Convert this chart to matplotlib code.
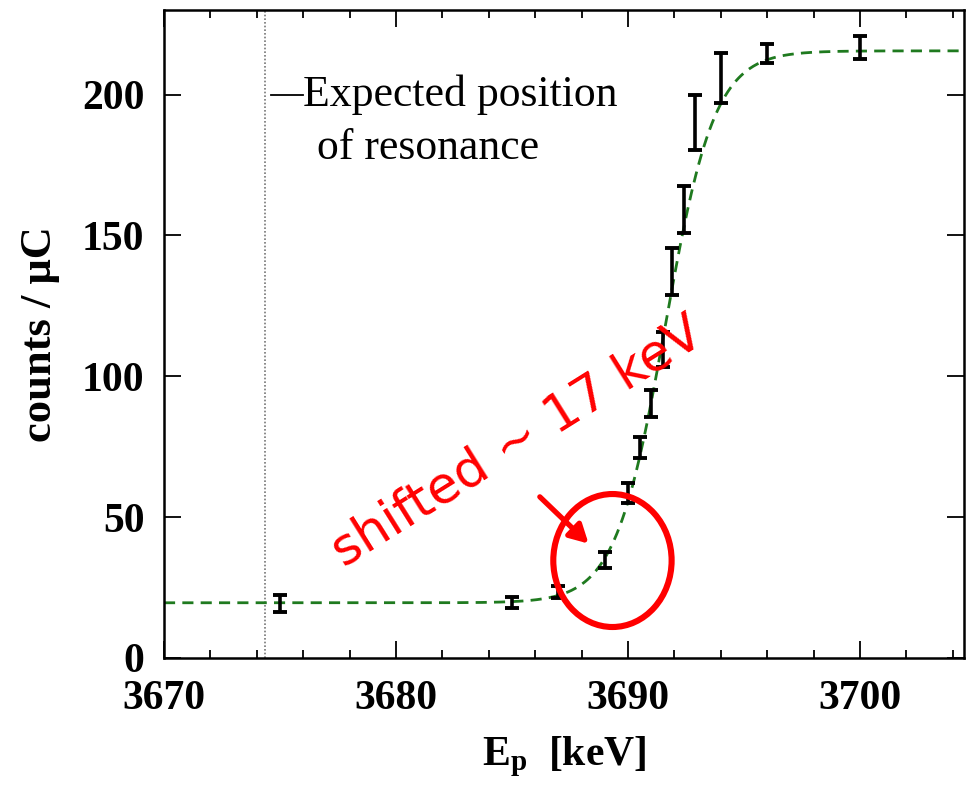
import numpy as np
import matplotlib
matplotlib.use("Agg")
import matplotlib.pyplot as plt
from matplotlib.patches import Ellipse

plt.rcParams["font.family"] = ["Liberation Serif", "DejaVu Serif"]
plt.rcParams["mathtext.fontset"] = "custom"
plt.rcParams["mathtext.rm"] = "Liberation Serif:bold"
plt.rcParams["mathtext.it"] = "Liberation Serif:bold"
plt.rcParams["mathtext.bf"] = "Liberation Serif:bold"

# Measured yield around the resonance
energy = [3675.0, 3685.0, 3687.0, 3689.0, 3690.0, 3690.5, 3691.0, 3691.5,
          3691.9, 3692.4, 3692.9, 3694.0, 3696.0, 3700.0]
counts = [19.3, 19.7, 23.4, 34.8, 58.5, 74.6, 90.2, 109.4,
          137.2, 159.2, 190.1, 205.9, 214.7, 216.8]
errors = [3.0, 2.0, 2.1, 2.8, 3.5, 3.7, 4.8, 6.2,
          8.5, 8.5, 9.9, 9.0, 3.4, 4.1]

# Step-function fit parameters (logistic edge)
fit_low = 19.6
fit_high = 215.5
fit_center = 3691.6
fit_width = 1.07

expected_resonance = 3674.35

x_ticks = [3670, 3680, 3690, 3700]
y_ticks = [0, 50, 100, 150, 200]

fig = plt.figure(figsize=(9.67, 7.93), dpi=100)
ax = fig.add_axes([164 / 967, 135 / 793, 800.4 / 967, 648 / 793])

xlim = (3670, 3704.5)
ylim = (0, 230)

# Fit curve
xf = np.linspace(xlim[0], xlim[1], 600)
yf = fit_low + (fit_high - fit_low) / (1 + np.exp(-(xf - fit_center) / fit_width))
ax.plot(xf, yf, color="#1f7a1f", lw=2.0, ls=(0, (4, 2.6)), zorder=2)

# Data with error bars
ax.errorbar(energy, counts, yerr=errors, fmt="none", ecolor="black",
            elinewidth=2.6, capsize=4.8, capthick=2.8, zorder=3)

# Expected resonance position
ax.axvline(expected_resonance, color="#777777", lw=1.2, ls=(0, (1, 1.2)), zorder=1)
ax.plot([3674.6, 3676.0], [200, 200], color="black", lw=1.3, zorder=3)
ax.text(3676.0, 200, "Expected position", fontsize=31.5, color="black",
        ha="left", va="center", family=["Liberation Serif"])
ax.text(3676.6, 181, "of resonance", fontsize=31.5, color="black",
        ha="left", va="center", family=["Liberation Serif"])

# Annotation in red
ax.text(3685.25, 76.5, "shifted ~ 17 keV", fontsize=37, color="red",
        rotation=32, ha="center", va="center", family=["DejaVu Sans"],
        rotation_mode="anchor", zorder=5)
ax.add_patch(Ellipse((3689.33, 34.6), 5.1, 47.2, fill=False,
                     edgecolor="red", lw=4.4, zorder=5))
ax.annotate("", xy=(3688.3, 40.6), xytext=(3686.2, 57.2),
            arrowprops=dict(arrowstyle="-|>,head_length=1.1,head_width=0.6",
                            color="red", lw=3.8, shrinkA=0, shrinkB=0),
            zorder=5)

ax.set_xlim(*xlim)
ax.set_ylim(*ylim)
ax.set_xticks(x_ticks)
ax.set_xticks(np.arange(3670, 3705, 2), minor=True)
ax.set_yticks(y_ticks)
ax.set_xticklabels([str(v) for v in x_ticks], fontsize=30, fontweight="bold")
ax.set_yticklabels([str(v) for v in y_ticks], fontsize=30, fontweight="bold")
ax.tick_params(which="both", direction="in", top=True, right=True, width=1.3)
ax.tick_params(which="major", length=12)
ax.tick_params(which="minor", length=6)
ax.tick_params(axis="x", pad=16)
ax.tick_params(axis="y", pad=14)
for s in ax.spines.values():
    s.set_linewidth(1.8)

ax.set_xlabel(r"$\mathrm{E_p}$  [keV]", fontsize=30, fontweight="bold", labelpad=12)
ax.set_ylabel("counts / μC", fontsize=32, fontweight="bold", labelpad=16)

fig.savefig("out.png", dpi=100)
